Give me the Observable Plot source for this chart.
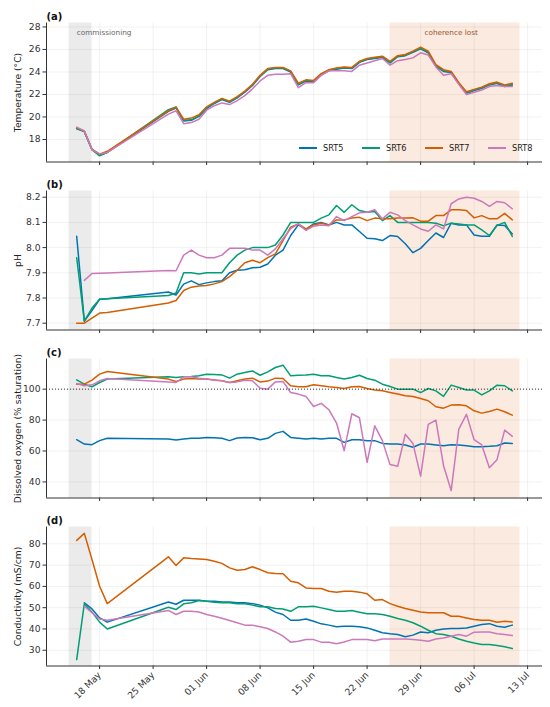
<!DOCTYPE html>
<html><head><meta charset="utf-8">
<script src="https://cdn.jsdelivr.net/npm/d3@7"></script>
<script src="https://cdn.jsdelivr.net/npm/@observablehq/plot@0.6"></script>
<style>
body{margin:0;background:#fff;font-family:"DejaVu Sans",sans-serif;}
#wrap{position:relative;width:550px;height:707px;overflow:hidden;}
#wrap svg{display:block;}
.legend{position:absolute;top:141px;left:299px;height:14px;font:8.2px "DejaVu Sans",sans-serif;color:#222;}
.legend .item{position:absolute;top:0;white-space:nowrap;}
.legend .sw{position:absolute;top:6px;width:18px;height:2px;}
.legend .lab{position:absolute;left:24px;top:0;line-height:14px;}
</style></head><body><div id="wrap"></div>
<script>
const series = ["SRT5","SRT6","SRT7","SRT8"];
const colors = ["#0173b2","#029e73","#d55e00","#cc78bc"];

const dates = ["2025-05-15","2025-05-16","2025-05-17","2025-05-18","2025-05-19",
"2025-05-27","2025-05-28","2025-05-29","2025-05-30","2025-05-31",
"2025-06-01","2025-06-02","2025-06-03","2025-06-04","2025-06-05","2025-06-06","2025-06-07","2025-06-08","2025-06-09","2025-06-10",
"2025-06-11","2025-06-12","2025-06-13","2025-06-14","2025-06-15","2025-06-16","2025-06-17","2025-06-18","2025-06-19","2025-06-20",
"2025-06-21","2025-06-22","2025-06-23","2025-06-24","2025-06-25","2025-06-26","2025-06-27","2025-06-28","2025-06-29","2025-06-30",
"2025-07-01","2025-07-02","2025-07-03","2025-07-04","2025-07-05","2025-07-06","2025-07-07","2025-07-08","2025-07-09","2025-07-10","2025-07-11"];

// (a) Temperature (°C)
const tempSRT5 = [19.0,18.7,17.1,16.6,16.85, 20.5,20.8,19.65,19.7,20.05,20.75,21.2,21.55,21.3,21.7,22.2,22.8,23.6,24.2,24.3, 24.3,24.0,22.85,23.2,23.15,23.75,24.1,24.25,24.35,24.3,24.85,25.1,25.2,25.3,24.8,25.35,25.45,25.75,26.05,25.7,24.5,24.05,23.95,22.95,22.1,22.35,22.55,22.85,23.0,22.7,22.85];
const tempSRT6 = [18.95,18.7,17.1,16.55,16.85, 20.65,20.9,19.7,19.75,20.1,20.8,21.25,21.6,21.35,21.75,22.25,22.85,23.65,24.25,24.35, 24.35,24.05,22.9,23.25,23.2,23.8,24.15,24.3,24.4,24.35,24.9,25.15,25.25,25.35,24.85,25.4,25.5,25.8,26.1,25.75,24.55,24.1,24.0,23.0,22.15,22.4,22.6,22.9,23.05,22.75,22.9];
const tempSRT7 = [19.05,18.75,17.15,16.7,16.95, 20.55,20.85,19.8,19.9,20.2,20.9,21.3,21.65,21.4,21.8,22.3,22.9,23.7,24.3,24.4, 24.4,24.1,23.0,23.3,23.25,23.85,24.2,24.35,24.45,24.4,24.95,25.2,25.3,25.4,24.95,25.45,25.55,25.85,26.2,25.85,24.65,24.2,24.05,23.05,22.25,22.45,22.65,22.95,23.1,22.85,23.0];
const tempSRT8 = [19.1,18.75,17.1,16.7,16.85, 20.25,20.55,19.4,19.5,19.8,20.6,21.0,21.25,21.1,21.45,21.9,22.5,23.2,23.7,23.8, 23.8,23.85,22.6,23.05,23.05,23.7,24.1,24.1,24.1,24.05,24.6,24.8,25.0,25.2,24.6,25.0,25.1,25.25,25.7,25.5,24.45,23.7,23.85,22.9,22.0,22.2,22.4,22.7,22.8,22.7,22.7];

// (b) pH
const phSRT5 = [8.045,7.708,7.75,7.795,7.797, 7.824,7.812,7.855,7.868,7.853,7.86,7.865,7.868,7.9,7.91,7.912,7.92,7.922,7.935,7.97, 7.99,8.048,8.09,8.072,8.094,8.10,8.09,8.10,8.09,8.09,8.064,8.037,8.035,8.028,8.048,8.044,8.015,7.98,7.997,8.028,8.058,8.04,8.097,8.09,8.09,8.05,8.045,8.045,8.09,8.088,8.054];
const phSRT6 = [7.96,7.708,7.76,7.795,7.797, 7.81,7.82,7.90,7.90,7.895,7.90,7.90,7.90,7.94,7.97,7.99,8.0,8.0,8.0,8.01, 8.05,8.10,8.10,8.10,8.10,8.117,8.13,8.167,8.14,8.17,8.147,8.14,8.143,8.107,8.127,8.10,8.10,8.10,8.10,8.10,8.097,8.087,8.097,8.094,8.09,8.09,8.07,8.048,8.088,8.10,8.044];
const phSRT7 = [7.70,7.70,7.72,7.74,7.742, 7.78,7.79,7.83,7.843,7.848,7.85,7.856,7.865,7.885,7.91,7.94,7.95,7.94,7.96,7.975, 8.028,8.081,8.094,8.074,8.09,8.097,8.09,8.11,8.11,8.117,8.12,8.107,8.117,8.114,8.114,8.117,8.117,8.118,8.105,8.105,8.127,8.127,8.15,8.15,8.147,8.118,8.127,8.114,8.114,8.136,8.11];
const phSRT8 = [null,7.87,7.897,7.898,7.899, 7.909,7.908,7.97,7.99,7.97,7.96,7.96,7.97,7.997,7.997,7.997,7.99,7.99,7.97,7.995, 8.035,8.075,8.094,8.068,8.085,8.09,8.087,8.123,8.107,8.123,8.138,8.14,8.15,8.114,8.14,8.13,8.107,8.09,8.074,8.065,8.09,8.074,8.174,8.193,8.2,8.196,8.183,8.164,8.183,8.178,8.154];

// (c) Dissolved oxygen (% saturation)
const doSRT5 = [67.3,64.5,64.1,66.7,68.2, 67.7,67.1,67.7,68.2,68.2,68.8,68.6,68.2,66.7,68.4,68.8,68.6,67.3,68.2,71.4, 72.7,68.8,68.2,67.7,68.2,67.7,68.2,68.2,65.6,67.3,67.3,66.7,66.7,64.9,64.5,64.5,63.9,62.4,64.5,64.5,63.9,63.4,64.1,63.9,63.4,62.8,62.8,63.0,63.4,65.2,64.9];
const doSRT6 = [106.0,103.2,101.5,104.3,106.5, 108.0,107.5,108.0,108.2,108.6,109.7,109.5,109.2,107.1,109.7,110.8,111.8,109.0,111.2,114.0, 115.5,108.6,109.0,109.2,109.7,108.6,108.6,107.5,106.5,107.5,109.0,106.9,105.8,103.2,101.7,100.0,100.0,100.0,97.8,100.4,98.9,95.3,102.6,101.1,99.4,99.4,96.3,98.9,102.6,102.2,98.9];
const doSRT7 = [103.2,103.2,105.8,109.7,111.4, 106.5,105.0,106.5,106.9,106.5,106.5,106.0,105.4,104.3,105.4,106.5,107.1,104.7,105.2,107.1, 106.9,102.2,101.5,101.5,102.8,102.2,101.5,101.1,100.4,101.5,101.7,100.4,99.4,98.9,97.8,96.8,95.7,95.3,94.0,92.5,88.6,87.7,89.7,89.9,89.2,86.0,84.5,85.6,87.1,85.4,83.2];
const doSRT8 = [103.7,102.2,102.8,105.4,106.9, 104.7,104.3,108.0,108.0,107.1,106.5,105.8,105.4,104.3,104.7,105.8,105.4,100.6,100.0,104.7, 104.9,97.8,96.8,95.3,88.8,90.8,86.7,78.1,60.2,84.1,81.5,52.7,76.3,66.7,51.2,50.1,70.8,64.9,43.7,77.2,80.0,50.5,34.4,74.2,83.7,67.3,63.9,49.2,54.4,73.5,69.5];

// (d) Conductivity (mS/cm)
const condSRT5 = [null,52.3,49.4,45.2,43.2, 52.7,51.6,53.5,53.5,53.5,53.0,53.0,52.7,52.7,52.3,52.3,51.9,51.2,49.9,47.9, 46.8,44.1,44.1,44.7,43.6,42.4,41.8,41.0,41.3,41.3,41.0,40.5,39.4,38.2,37.7,37.4,36.3,37.1,38.6,38.2,39.4,40.0,40.2,40.2,40.5,41.3,42.1,42.5,41.3,40.8,41.8];
const condSRT6 = [25.6,51.9,47.9,43.2,40.0, 50.2,49.1,51.8,52.3,53.4,53.0,52.6,52.3,52.3,51.9,51.8,51.2,50.4,50.4,49.6, 49.4,48.3,50.4,50.4,50.7,49.9,49.1,48.3,48.3,48.7,47.9,47.1,47.1,46.8,46.0,44.9,44.1,42.9,41.3,39.4,37.8,37.4,36.6,35.3,34.2,33.4,32.7,32.7,32.2,31.6,30.8];
const condSRT7 = [81.6,84.9,72.6,60.1,51.9, 73.9,69.8,73.4,73.1,72.9,72.6,71.8,70.8,68.7,67.6,67.9,69.2,67.9,66.4,66.1, 65.9,62.4,61.7,59.3,59.0,59.0,57.7,57.3,57.7,57.7,57.3,56.5,53.5,53.8,51.9,50.7,49.6,48.8,48.0,47.6,47.6,47.6,46.0,46.0,45.2,44.4,44.1,44.1,43.2,43.6,43.3];
const condSRT8 = [null,50.7,47.6,44.7,44.1, 48.7,46.8,48.3,48.3,48.0,46.8,46.0,45.0,44.0,42.9,41.8,41.8,41.0,40.2,38.6, 36.6,33.8,34.2,35.0,35.0,33.8,33.8,33.1,33.9,35.0,35.0,35.0,34.5,35.3,35.3,35.3,35.3,35.0,34.7,34.2,35.3,35.8,36.6,37.4,36.6,38.5,38.6,38.6,37.8,37.4,36.9];

// Shaded periods
const spanLabels = ["commissioning","coherence lost"];
const spanStart = ["2025-05-14","2025-06-25"];
const spanEnd = ["2025-05-17","2025-07-12"];
const spanLabelAt = ["2025-05-15","2025-07-03"];

const xTickDates = ["2025-05-18","2025-05-25","2025-06-01","2025-06-08","2025-06-15","2025-06-22","2025-06-29","2025-07-06","2025-07-13"];

const panelTags = ["(a)","(b)","(c)","(d)"];
const panelLabels = ["Temperature (°C)","pH","Dissolved oxygen (% saturation)","Conductivity (mS/cm)"];
const panelValues = [
  [tempSRT5,tempSRT6,tempSRT7,tempSRT8],
  [phSRT5,phSRT6,phSRT7,phSRT8],
  [doSRT5,doSRT6,doSRT7,doSRT8],
  [condSRT5,condSRT6,condSRT7,condSRT8]
];
const panelYDomain = [[16.0,28.35],[7.673,8.2246],[29.6,119.5],[22.6,87.9]];
const panelYTicks = [[18,20,22,24,26,28],[7.7,7.8,7.9,8.0,8.1,8.2],[40,60,80,100],[30,40,50,60,70,80]];
const referenceLine = 100; // 100 % saturation

const parse = d3.utcParse("%Y-%m-%d");
const D = dates.map(parse);
const spans = spanStart.map((s,i)=>({x1:parse(s), x2:parse(spanEnd[i]), label:spanLabels[i], at:parse(spanLabelAt[i])}));
const xt = xTickDates.map(parse);
const day = 864e5;
const xDomain = [new Date(+parse(spanStart[0]) - 2.95*day), new Date(+parse(spanEnd[1]) + 2.95*day)];
const fmt = d3.utcFormat("%d %b");
const ink = "#333";

const wrap = document.getElementById("wrap");

panelValues.forEach((vals, p) => {
  const last = p === 3;
  const rows = [];
  vals.forEach((arr, s) => arr.forEach((v, j) => { if (v != null) rows.push({date:D[j], series:series[s], value:v}); }));
  const yd = panelYDomain[p];
  const marks = [
    Plot.rect(spans, {x1:"x1", x2:"x2", fill:(d,i)=> i===0 ? "#ebebeb" : "#fbeadf"}),
    Plot.gridX(xt, {stroke:"#000", strokeOpacity:0.07, strokeWidth:0.8}),
    Plot.gridY(panelYTicks[p], {stroke:"#000", strokeOpacity:0.07, strokeWidth:0.8}),
  ];
  if (p === 0) {
    marks.push(Plot.text([spans[0]], {x:"at", text:"label", frameAnchor:"top", dy:7, textAnchor:"start", fill:"#666", fontSize:7.3}));
    marks.push(Plot.text([spans[1]], {x:"at", text:"label", frameAnchor:"top", dy:7, textAnchor:"middle", fill:"#a0522d", fontSize:7.3}));
  }
  marks.push(Plot.line(rows, {x:"date", y:"value", z:"series", stroke:"series", strokeWidth:1.5, strokeLinejoin:"round"}));
  if (p === 2) marks.push(Plot.ruleY([referenceLine], {stroke:"#222", strokeWidth:0.9, strokeDasharray:"1,2"}));
  marks.push(Plot.ruleX([xDomain[0]], {stroke:ink, strokeWidth:1}));
  marks.push(Plot.ruleY([yd[0]], {stroke:ink, strokeWidth:1}));
  marks.push(Plot.axisY(panelYTicks[p], {tickSize:3.5, tickPadding:2.5, fontSize:9.2, label:null, stroke:ink, color:ink,
    tickFormat: p === 1 ? (d => d.toFixed(1)) : (d => String(d))}));
  marks.push(Plot.axisX(xt, {tickSize:3.5, fontSize:9.2, label:null, stroke:ink, color:ink,
    tickRotate: last ? -45 : 0, tickPadding: last ? 4 : 3, tickFormat: last ? fmt : (() => "")}));
  marks.push(Plot.text([panelTags[p]], {frameAnchor:"top-left", dy:-10, textAnchor:"start", fontWeight:"bold", fontSize:10, fill:"#111"}));
  marks.push(Plot.text([panelLabels[p]], {frameAnchor:"left", dx:-28, rotate:-90, textAnchor:"middle", fontSize:9.2, fill:"#222"}));

  const chart = Plot.plot({
    width:550, height: last ? 203 : 168,
    marginLeft:46, marginRight:8, marginTop:22.5, marginBottom: last ? 41.5 : 6.5,
    style:{fontFamily:"DejaVu Sans, sans-serif", background:"transparent", overflow:"visible"},
    x:{type:"utc", domain:xDomain},
    y:{domain:yd},
    color:{domain:series, range:colors},
    marks
  });
  wrap.appendChild(chart);
});

// legend in panel (a)
const leg = document.createElement("div");
leg.className = "legend";
series.forEach((s,i) => {
  const it = document.createElement("div");
  it.className = "item";
  it.style.left = (i*63) + "px";
  it.innerHTML = `<span class="sw" style="background:${colors[i]}"></span><span class="lab">${s}</span>`;
  leg.appendChild(it);
});
wrap.appendChild(leg);
</script>
</body></html>
